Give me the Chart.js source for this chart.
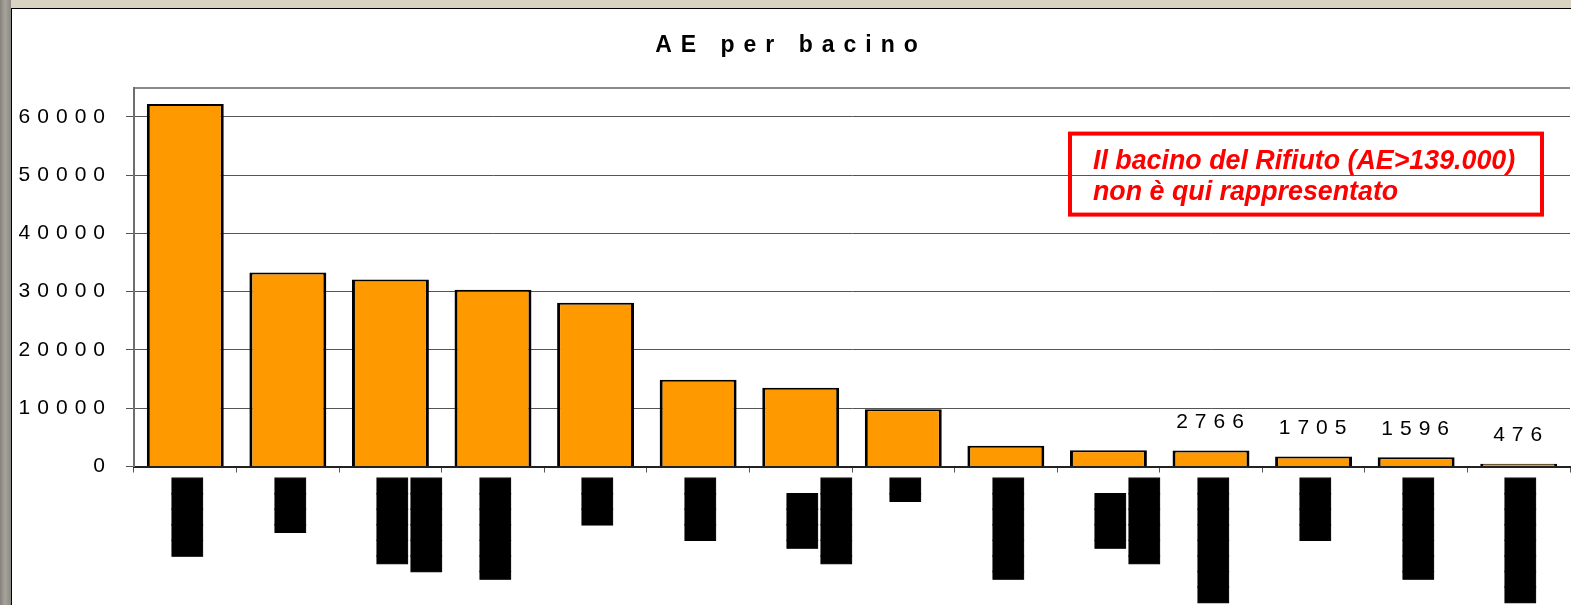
<!DOCTYPE html>
<html>
<head>
<meta charset="utf-8">
<script src="https://cdn.jsdelivr.net/npm/chart.js@4/dist/chart.umd.min.js"></script>
<style>
html,body{margin:0;padding:0;width:1571px;height:605px;overflow:hidden;background:#d8d4c1;}
#strip{position:absolute;left:0;top:0;width:11px;height:605px;background:linear-gradient(90deg,#85827b 0%,#a6a39b 45%,#8c8982 100%);}
#panel{position:absolute;left:11px;top:8px;width:1600px;height:700px;background:#fff;border-left:1px solid #000;border-top:1px solid #000;}
#c{position:absolute;left:12px;top:9px;}
</style>
</head>
<body>
<div id="strip"></div>
<div id="panel"></div>
<canvas id="c" width="1564" height="620" style="width:1564px;height:620px"></canvas>
<script>
// ---- data ----
const chartTitle = 'AE per bacino';
// category labels are blacked out in the reference; rendered as block glyphs
const categories = [
  '█████',
  '▐███',
  ['▐█████', '██████'],
  '▐██████',
  '███',
  '████',
  ['▐███ ', '▐█████'],
  '▐█',
  '▐██████',
  ['▐███ ', '▐█████'],
  '████████',
  '████',
  '▐██████',
  '████████'
];
const aeValues = [62200, 33300, 32100, 30300, 28100, 14900, 13500, 9800, 3550, 2790, 2766, 1705, 1596, 476];
const labelledBars = [10, 11, 12, 13];
const yTickValues = [0, 10000, 20000, 30000, 40000, 50000, 60000];
const yMax = 65000;
const noteLines = ['Il bacino del Rifiuto (AE>139.000)', 'non è qui rappresentato'];

// ---- helpers ----
function patchLabels(scale, spacing) {
  if (!scale || scale.__spacing === spacing) return;
  const orig = Object.getPrototypeOf(scale).drawLabels;
  scale.drawLabels = function (area) {
    const c = this.ctx;
    const prev = c.letterSpacing;
    c.letterSpacing = spacing;
    orig.call(this, area);
    c.letterSpacing = prev;
  };
  scale.__spacing = spacing;
}

const spacingPlugin = {
  id: 'spacing',
  beforeDraw(chart) {
    chart.ctx.letterSpacing = '9px';
    patchLabels(chart.scales.y, '7px');
    patchLabels(chart.scales.x, '0px');
  },
  afterDraw(chart) {
    chart.ctx.letterSpacing = '0px';
  }
};

const valueLabels = {
  id: 'valueLabels',
  afterDatasetsDraw(chart) {
    const meta = chart.getDatasetMeta(0);
    const ctx = chart.ctx;
    ctx.save();
    ctx.letterSpacing = '7px';
    ctx.font = '21px "Liberation Sans", Arial, sans-serif';
    ctx.fillStyle = '#000';
    ctx.textAlign = 'center';
    ctx.textBaseline = 'alphabetic';
    labelledBars.forEach(i => {
      const el = meta.data[i];
      ctx.fillText(String(aeValues[i]), el.x + 2.5, el.y - 22.5);
    });
    ctx.restore();
  }
};

const notePlugin = {
  id: 'note',
  afterDraw(chart) {
    const a = chart.chartArea;
    const ctx = chart.ctx;
    const x0 = a.right - 502;
    const y0 = a.top + 44;
    ctx.save();
    ctx.letterSpacing = '0px';
    ctx.strokeStyle = '#ff0000';
    ctx.lineWidth = 4;
    ctx.strokeRect(x0 + 2, y0 + 2, 472, 81);
    ctx.fillStyle = '#ff0000';
    ctx.font = 'italic bold 26.8px "Liberation Sans", Arial, sans-serif';
    ctx.textAlign = 'left';
    ctx.textBaseline = 'alphabetic';
    ctx.fillText(noteLines[0], x0 + 25, y0 + 37);
    ctx.fillText(noteLines[1], x0 + 25, y0 + 68);
    ctx.restore();
  }
};

new Chart(document.getElementById('c'), {
  type: 'bar',
  data: {
    labels: categories,
    datasets: [{
      data: aeValues,
      backgroundColor: '#ff9900',
      borderColor: '#000000',
      borderWidth: {top: 2, left: 3, right: 3, bottom: 2},
      barPercentage: 0.75,
      categoryPercentage: 1.0
    }]
  },
  options: {
    responsive: false,
    animation: false,
    layout: {padding: {left: 0, right: 6, top: 0, bottom: 0}},
    plugins: {
      legend: {display: false},
      tooltip: {enabled: false},
      title: {
        display: true,
        text: chartTitle,
        color: '#000',
        font: {family: '"Liberation Sans", Arial, sans-serif', size: 23, weight: 'bold', lineHeight: 1.2},
        padding: {top: 23, bottom: 28}
      }
    },
    scales: {
      x: {
        grid: {offset: true, drawOnChartArea: false, drawTicks: true, tickLength: 6, tickColor: '#555', tickWidth: 1},
        border: {color: '#222', width: 2},
        ticks: {
          autoSkip: false, minRotation: 90, maxRotation: 90, padding: 6, color: '#000',
          labelOffset: 4,
          textStrokeColor: '#000', textStrokeWidth: 1,
          font: {family: '"DejaVu Sans Mono", monospace', size: 25.8, lineHeight: 1.318}
        },
        afterFit: s => { s.height = 162.5; }
      },
      y: {
        min: 0,
        max: yMax,
        afterBuildTicks: s => { s.ticks = yTickValues.concat([yMax]).map(v => ({value: v})); },
        afterFit: s => { s.width = 122; },
        grid: {
          color: c => (c.tick && c.tick.value === yMax) ? '#8a8a8a' : '#555',
          lineWidth: c => (c.tick && c.tick.value === yMax) ? 2 : 1,
          tickColor: c => (c.tick && c.tick.value === yMax) ? 'rgba(0,0,0,0)' : '#555',
          drawTicks: true,
          tickLength: 8
        },
        border: {color: '#6e6e6e', width: 2},
        ticks: {
          padding: 14,
          color: '#000',
          font: {family: '"Liberation Sans", Arial, sans-serif', size: 21},
          callback: v => yTickValues.includes(v) ? String(v) : ''
        }
      }
    }
  },
  plugins: [spacingPlugin, valueLabels, notePlugin]
});
</script>
</body>
</html>
